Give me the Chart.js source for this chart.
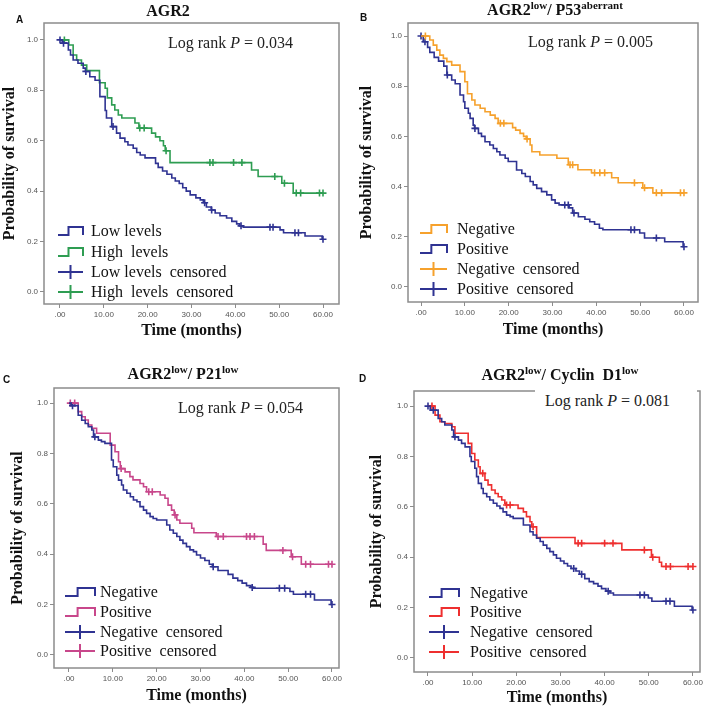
<!DOCTYPE html>
<html>
<head>
<meta charset="utf-8">
<script src="https://cdn.jsdelivr.net/npm/chart.js@4.4.1/dist/chart.umd.min.js"></script>
<style>
  body { margin: 0; background: #fff; }
  #page { position: relative; width: 709px; height: 708px; overflow: hidden; font-family: 'Liberation Serif', 'Times New Roman', serif; }
  .panel { position: absolute; }
  .title { position: absolute; width: 300px; text-align: center; font-weight: bold; font-size: 16px; line-height: 18px; white-space: nowrap; color: #111; }
  .title sup { font-size: 11px; vertical-align: 6px; line-height: 0; }
  .letter { position: absolute; font-family: 'Liberation Sans', Arial, sans-serif; font-weight: bold; font-size: 10px; line-height: 12px; color: #111; }
  .logrank { position: absolute; font-size: 16px; line-height: 20px; white-space: nowrap; color: #222; }
</style>
</head>
<body>
<div id="page">
  <div class="panel" style="left:0;top:0"><canvas id="chartA" width="355" height="345"></canvas></div>
  <div class="panel" style="left:355px;top:0"><canvas id="chartB" width="354" height="345"></canvas></div>
  <div class="panel" style="left:0;top:345px"><canvas id="chartC" width="355" height="363"></canvas></div>
  <div class="panel" style="left:355px;top:345px"><canvas id="chartD" width="354" height="363"></canvas></div>

  <div class="letter" style="left:16px;top:14px">A</div>
  <div class="letter" style="left:360px;top:12px">B</div>
  <div class="letter" style="left:3px;top:374px">C</div>
  <div class="letter" style="left:359px;top:373px">D</div>

  <div class="title" style="left:18px;top:2px">AGR2</div>
  <div class="title" style="left:405px;top:1px">AGR2<sup>low</sup>/ P53<sup>aberrant</sup></div>
  <div class="title" style="left:33px;top:365px">AGR2<sup>low</sup>/ P21<sup>low</sup></div>
  <div class="title" style="left:410px;top:366px">AGR2<sup>low</sup>/ Cyclin&nbsp; D1<sup>low</sup></div>

  <div class="logrank" style="left:168px;top:33px">Log rank <i>P</i> = 0.034</div>
  <div class="logrank" style="left:528px;top:32px">Log rank <i>P</i> = 0.005</div>
  <div class="logrank" style="left:178px;top:398px">Log rank <i>P</i> = 0.054</div>
  <div class="logrank" style="left:535px;top:385px;width:162px;height:26px;padding:6px 0 0 10px;box-sizing:border-box;background:#fff">Log rank <i>P</i> = 0.081</div>
</div>

<script>
// 坐标轴刻度
const xTicks = [0, 10, 20, 30, 40, 50, 60];
const yTicks = [0, 0.2, 0.4, 0.6, 0.8, 1.0];

// A: AGR2 低表达 / 高表达
const aLowT = [0.5, 1.9, 2.4, 3, 4.1, 5.3, 5.8, 6.8, 8, 9.1, 10.3, 10.6, 11.8, 12.9, 13.7, 14.8, 15.5, 16.7, 17.5, 18.3, 19.4, 21.8, 22.4, 23.4, 24.4, 25.5, 26.3, 27.2, 28, 28.8, 29.7, 31, 32, 32.7, 33.4, 34.5, 35.4, 36.5, 38, 39.2, 40.3, 41, 41.8, 50.2, 51, 55.9, 59.8];
const aLowS = [0.987, 0.96, 0.94, 0.92, 0.907, 0.888, 0.875, 0.854, 0.84, 0.775, 0.72, 0.69, 0.656, 0.63, 0.61, 0.596, 0.583, 0.57, 0.553, 0.543, 0.532, 0.51, 0.494, 0.48, 0.467, 0.452, 0.44, 0.43, 0.413, 0.40, 0.385, 0.373, 0.365, 0.354, 0.337, 0.325, 0.313, 0.302, 0.293, 0.28, 0.27, 0.262, 0.257, 0.246, 0.235, 0.222, 0.209];
const aLowC = [0, 0.8, 5.9, 12.1, 33, 34.6, 41.3, 47.9, 48.6, 53.6, 54.4, 60];
const aHighT = [2, 3, 3.8, 4.9, 6.1, 9, 10.3, 10.8, 11.8, 12.5, 13.3, 14.1, 17.1, 18, 20.9, 21.8, 22.8, 23.6, 24, 25.1, 43.7, 45.2, 50.6, 53.2];
const aHighS = [0.98, 0.94, 0.92, 0.90, 0.878, 0.83, 0.808, 0.77, 0.742, 0.722, 0.702, 0.69, 0.67, 0.65, 0.63, 0.615, 0.60, 0.58, 0.56, 0.513, 0.484, 0.458, 0.431, 0.392];
const aHighC = [1, 18.2, 19.2, 24.2, 34.2, 34.9, 39.6, 41.5, 49, 51.2, 53.9, 54.9, 59.2, 60];

// B: AGR2low / P53aberrant
const bNegT = [2, 2.8, 3.6, 4.3, 5.1, 5.9, 7, 8.9, 10, 10.6, 11.6, 12.3, 13.5, 14.6, 15.8, 16.9, 17.6, 20.9, 21.6, 22.6, 23.4, 24, 24.9, 25.3, 27.1, 31, 33.6, 35.8, 38.9, 43.5, 45, 50.6, 52.9];
const bNegS = [0.984, 0.964, 0.944, 0.924, 0.911, 0.898, 0.884, 0.858, 0.818, 0.77, 0.745, 0.725, 0.712, 0.698, 0.685, 0.672, 0.652, 0.635, 0.625, 0.612, 0.60, 0.59, 0.566, 0.539, 0.526, 0.513, 0.487, 0.467, 0.455, 0.435, 0.415, 0.395, 0.375];
const bNegC = [1, 18.1, 18.9, 24.2, 34, 34.6, 39.6, 40.8, 41.9, 48.7, 51, 53.7, 54.9, 59.2, 60];
const bPosT = [0.5, 1.5, 2, 3, 4, 5.2, 5.9, 7, 7.8, 8.9, 9.7, 10, 10.8, 11.2, 11.9, 12.2, 13.1, 13.8, 14.6, 15.7, 16.5, 17.3, 18, 19.2, 19.9, 21.8, 23, 23.8, 24.9, 25.6, 26.4, 27.5, 28.7, 29.8, 30.6, 31.5, 33.8, 34.6, 35.9, 37.4, 38.5, 39.6, 40.7, 41.5, 49.9, 51, 55.6, 59.8];
const bPosS = [0.977, 0.955, 0.935, 0.915, 0.90, 0.88, 0.845, 0.825, 0.81, 0.765, 0.738, 0.712, 0.692, 0.672, 0.645, 0.632, 0.612, 0.60, 0.579, 0.566, 0.552, 0.539, 0.526, 0.513, 0.50, 0.466, 0.452, 0.44, 0.42, 0.407, 0.393, 0.38, 0.367, 0.347, 0.334, 0.327, 0.315, 0.295, 0.28, 0.27, 0.26, 0.25, 0.234, 0.228, 0.215, 0.195, 0.18, 0.16];
const bPosC = [0, 0.9, 6, 12.3, 32.8, 33.6, 34.9, 47.9, 48.7, 53.7, 60];

// C: AGR2low / P21low
const cNegT = [0.5, 2.1, 2.9, 3.7, 4.4, 5.2, 5.6, 6.7, 7.4, 8.2, 9.7, 10.1, 10.9, 11.3, 12, 12.4, 13.2, 14, 14.7, 15.5, 16.2, 17, 17.7, 18.5, 19.2, 20, 22.3, 23, 23.8, 24.6, 25.3, 26, 26.8, 27.6, 28.4, 29.1, 30, 31, 32, 32.7, 34, 36.3, 37.4, 38.5, 39.5, 40.5, 41.5, 42, 50.4, 51.2, 56, 59.8];
const cNegS = [0.99, 0.952, 0.932, 0.919, 0.906, 0.893, 0.866, 0.853, 0.847, 0.84, 0.774, 0.747, 0.714, 0.694, 0.675, 0.655, 0.642, 0.628, 0.615, 0.608, 0.589, 0.575, 0.562, 0.549, 0.542, 0.536, 0.516, 0.496, 0.483, 0.47, 0.456, 0.443, 0.43, 0.417, 0.41, 0.397, 0.385, 0.375, 0.36, 0.35, 0.335, 0.32, 0.305, 0.295, 0.285, 0.275, 0.268, 0.265, 0.252, 0.241, 0.218, 0.20];
const cNegC = [0.8, 5.9, 32.9, 41.8, 48, 49.2, 54, 55.1, 60];
const cPosT = [2.1, 2.9, 3.7, 4.4, 5.2, 6.3, 9.4, 10.5, 11.3, 11.7, 12.8, 13.9, 14.6, 16.2, 17, 17.7, 20.8, 21.9, 22.6, 23.4, 24, 24.6, 25.3, 28, 28.5, 33.6, 44.3, 45, 50.7, 53];
const cPosS = [0.966, 0.946, 0.933, 0.913, 0.90, 0.88, 0.833, 0.807, 0.767, 0.74, 0.727, 0.708, 0.695, 0.681, 0.668, 0.648, 0.635, 0.622, 0.595, 0.575, 0.556, 0.536, 0.523, 0.503, 0.485, 0.47, 0.44, 0.415, 0.39, 0.36];
const cPosC = [0.3, 1.3, 11.9, 18.2, 19, 24.2, 34, 35.2, 40.5, 41.3, 42.3, 48.8, 51, 54, 55.1, 59.2, 60];

// D: AGR2low / Cyclin D1low
const dNegT = [0.5, 2.3, 3.1, 3.8, 5.4, 5.8, 6.9, 7.6, 8.4, 9.5, 9.8, 10.6, 11, 11.4, 12.1, 12.5, 13.3, 14, 14.8, 15.6, 16.3, 17, 17.8, 18.6, 19.3, 21.6, 23.1, 23.8, 24.6, 25.4, 26.1, 26.9, 27.6, 28.4, 29.1, 30, 30.8, 31.6, 32.4, 33.5, 34.3, 35.5, 36.5, 37.5, 38.5, 39.3, 40.3, 41.2, 42, 49.9, 50.7, 55.8, 59.8];
const dNegS = [0.984, 0.951, 0.938, 0.925, 0.905, 0.878, 0.865, 0.852, 0.838, 0.80, 0.78, 0.753, 0.72, 0.693, 0.673, 0.653, 0.64, 0.627, 0.614, 0.603, 0.594, 0.58, 0.567, 0.561, 0.554, 0.528, 0.501, 0.488, 0.475, 0.462, 0.448, 0.435, 0.422, 0.409, 0.396, 0.385, 0.375, 0.365, 0.355, 0.345, 0.332, 0.315, 0.303, 0.295, 0.285, 0.275, 0.265, 0.258, 0.25, 0.238, 0.225, 0.205, 0.19];
const dNegC = [0, 1.2, 6.1, 33, 34.8, 40.8, 48, 49, 53.9, 54.8, 60];
const dPosT = [1.6, 2.7, 3.8, 5.4, 6.1, 9.1, 9.9, 10.6, 11.4, 11.8, 12.9, 13.6, 14.4, 15.2, 15.9, 16.7, 17.4, 17.6, 20.4, 21.6, 22.3, 23.1, 23.5, 24.6, 33.3, 43.9, 50.6, 52.4, 52.9];
const dPosS = [0.964, 0.938, 0.931, 0.918, 0.892, 0.852, 0.812, 0.786, 0.759, 0.733, 0.706, 0.687, 0.667, 0.653, 0.64, 0.627, 0.614, 0.607, 0.594, 0.58, 0.561, 0.541, 0.521, 0.478, 0.455, 0.429, 0.40, 0.38, 0.363];
const dPosC = [0.9, 12.4, 17.8, 18.6, 23.8, 34, 34.8, 40, 41.9, 49, 50.9, 53.9, 54.9, 58.9, 60];

// 颜色
const NAVY = '#2f3392';
const GREEN = '#2e9d52';
const ORANGE = '#f6a12c';
const PINK = '#c8478b';
const RED = '#ee2f2f';

// 生成阶梯曲线点
function stepPoints(times, surv, cens) {
  const pts = [{ x: 0, y: 1 }];
  times.forEach((t, i) => pts.push({ x: t, y: surv[i] }));
  const lastT = times[times.length - 1];
  const lastC = cens.length ? cens[cens.length - 1] : 0;
  if (lastC > lastT) pts.push({ x: lastC, y: surv[surv.length - 1] });
  return pts;
}

// 某时刻的生存率
function survAt(times, surv, t) {
  let s = 1;
  for (let i = 0; i < times.length; i++) {
    if (times[i] <= t) s = surv[i];
  }
  return s;
}

function censPoints(times, surv, cens) {
  return cens.map(t => ({ x: t, y: survAt(times, surv, t) }));
}

// 边框
const framePlugin = {
  id: 'kmFrame',
  beforeDatasetsDraw(chart) {
    const { ctx, chartArea: a } = chart;
    ctx.save();
    ctx.strokeStyle = '#8c8c8c';
    ctx.lineWidth = 1.5;
    ctx.strokeRect(a.left, a.top, a.right - a.left, a.bottom - a.top);
    ctx.restore();
  }
};

// 图例（画在图内左下）
function makeLegendPlugin(lg) {
  return {
    id: 'kmLegend',
    afterDraw(chart) {
      const ctx = chart.ctx;
      ctx.save();
      ctx.font = '16px "Liberation Serif"';
      ctx.textBaseline = 'middle';
      lg.items.forEach((it, i) => {
        const y = lg.rows[i];
        ctx.strokeStyle = it.color;
        ctx.lineWidth = 2;
        ctx.beginPath();
        if (it.kind === 'line') {
          const xm = lg.x0 + (lg.x1 - lg.x0) * 0.42;
          ctx.moveTo(lg.x0, y + 4);
          ctx.lineTo(xm, y + 4);
          ctx.lineTo(xm, y - 4);
          ctx.lineTo(lg.x1, y - 4);
          ctx.lineTo(lg.x1, y + 4);
        } else {
          const xm = lg.x0 + (lg.x1 - lg.x0) * 0.5;
          ctx.moveTo(lg.x0, y);
          ctx.lineTo(lg.x1, y);
          ctx.moveTo(xm, y - 7);
          ctx.lineTo(xm, y + 7);
        }
        ctx.stroke();
        ctx.fillStyle = '#111';
        ctx.fillText(it.label, lg.tx, y + 1);
      });
      ctx.restore();
    }
  };
}

function makeKM(id, p) {
  const g = p.groups;
  const datasets = [];
  g.forEach(gr => {
    datasets.push({
      label: gr.name,
      data: stepPoints(gr.t, gr.s, gr.c),
      borderColor: gr.color,
      borderWidth: 1.6,
      stepped: true,
      pointRadius: 0,
      fill: false
    });
  });
  g.forEach(gr => {
    datasets.push({
      label: gr.name + ' censored',
      data: censPoints(gr.t, gr.s, gr.c),
      showLine: false,
      pointStyle: 'cross',
      pointRadius: 3.5,
      borderColor: gr.color,
      borderWidth: 1.6
    });
  });

  const tickColor = '#555';
  return new Chart(document.getElementById(id), {
    type: 'line',
    data: { datasets },
    options: {
      responsive: false,
      animation: false,
      layout: { padding: { left: 0, top: p.area.top, right: p.w - p.area.right, bottom: 0 } },
      plugins: { legend: { display: false }, tooltip: { enabled: false } },
      scales: {
        x: {
          type: 'linear',
          min: p.xMin,
          max: p.xMax,
          afterBuildTicks: s => { s.ticks = xTicks.map(v => ({ value: v })); },
          afterFit: s => { s.height = p.h - p.area.bottom; },
          grid: { display: true, drawOnChartArea: false, drawTicks: true, tickLength: 4, color: '#8c8c8c' },
          border: { display: false },
          ticks: {
            padding: 2,
            color: tickColor,
            font: { family: 'Liberation Sans', size: 8 },
            maxRotation: 0,
            callback: v => (v === 0 ? '.00' : v.toFixed(2))
          },
          title: {
            display: true,
            text: 'Time (months)',
            color: '#111',
            font: { family: 'Liberation Serif', size: 16, weight: 'bold' },
            padding: { top: 0, bottom: p.xTitlePad }
          }
        },
        y: {
          min: p.yMin,
          max: p.yMax,
          afterBuildTicks: s => { s.ticks = yTicks.map(v => ({ value: v })); },
          afterFit: s => { s.width = p.area.left; },
          grid: { display: true, drawOnChartArea: false, drawTicks: true, tickLength: 4, color: '#8c8c8c' },
          border: { display: false },
          ticks: {
            padding: 2,
            color: tickColor,
            font: { family: 'Liberation Sans', size: 8 },
            callback: v => v.toFixed(1)
          },
          title: {
            display: true,
            text: 'Probability of survival',
            color: '#111',
            font: { family: 'Liberation Serif', size: 16, weight: 'bold' },
            padding: { top: p.yTitlePad, bottom: 0 }
          }
        }
      }
    },
    plugins: [framePlugin, makeLegendPlugin(p.legend)]
  });
}

makeKM('chartA', {
  w: 355, h: 345,
  area: { left: 44, top: 23, right: 339, bottom: 304 },
  xMin: -3.65, xMax: 63.65, yMin: -0.048, yMax: 1.067,
  xTitlePad: 5, yTitlePad: 0,
  groups: [
    { name: 'Low levels', t: aLowT, s: aLowS, c: aLowC, color: NAVY },
    { name: 'High levels', t: aHighT, s: aHighS, c: aHighC, color: GREEN }
  ],
  legend: {
    x0: 58, x1: 83, tx: 91, rows: [231, 252, 272, 292],
    items: [
      { label: 'Low levels', color: NAVY, kind: 'line' },
      { label: 'High  levels', color: GREEN, kind: 'line' },
      { label: 'Low levels  censored', color: NAVY, kind: 'cross' },
      { label: 'High  levels  censored', color: GREEN, kind: 'cross' }
    ]
  }
});

makeKM('chartB', {
  w: 354, h: 345,
  area: { left: 53, top: 23, right: 343, bottom: 302 },
  xMin: -2.97, xMax: 63.2, yMin: -0.06, yMax: 1.052,
  xTitlePad: 6, yTitlePad: 2,
  groups: [
    { name: 'Negative', t: bNegT, s: bNegS, c: bNegC, color: ORANGE },
    { name: 'Positive', t: bPosT, s: bPosS, c: bPosC, color: NAVY }
  ],
  legend: {
    x0: 65, x1: 92, tx: 102, rows: [229, 249, 269, 289],
    items: [
      { label: 'Negative', color: ORANGE, kind: 'line' },
      { label: 'Positive', color: NAVY, kind: 'line' },
      { label: 'Negative  censored', color: ORANGE, kind: 'cross' },
      { label: 'Positive  censored', color: NAVY, kind: 'cross' }
    ]
  }
});

makeKM('chartC', {
  w: 355, h: 363,
  area: { left: 54, top: 43, right: 339, bottom: 323 },
  xMin: -3.42, xMax: 61.6, yMin: -0.052, yMax: 1.06,
  xTitlePad: 3, yTitlePad: 8,
  groups: [
    { name: 'Negative', t: cNegT, s: cNegS, c: cNegC, color: NAVY },
    { name: 'Positive', t: cPosT, s: cPosS, c: cPosC, color: PINK }
  ],
  legend: {
    x0: 65, x1: 95, tx: 100, rows: [247, 267, 287, 306],
    items: [
      { label: 'Negative', color: NAVY, kind: 'line' },
      { label: 'Positive', color: PINK, kind: 'line' },
      { label: 'Negative  censored', color: NAVY, kind: 'cross' },
      { label: 'Positive  censored', color: PINK, kind: 'cross' }
    ]
  }
});

makeKM('chartD', {
  w: 354, h: 363,
  area: { left: 59, top: 46, right: 345, bottom: 327 },
  xMin: -3.17, xMax: 61.6, yMin: -0.056, yMax: 1.06,
  xTitlePad: 1, yTitlePad: 12,
  groups: [
    { name: 'Negative', t: dNegT, s: dNegS, c: dNegC, color: NAVY },
    { name: 'Positive', t: dPosT, s: dPosS, c: dPosC, color: RED }
  ],
  legend: {
    x0: 74, x1: 104, tx: 115, rows: [248, 267, 287, 307],
    items: [
      { label: 'Negative', color: NAVY, kind: 'line' },
      { label: 'Positive', color: RED, kind: 'line' },
      { label: 'Negative  censored', color: NAVY, kind: 'cross' },
      { label: 'Positive  censored', color: RED, kind: 'cross' }
    ]
  }
});
</script>
</body>
</html>
